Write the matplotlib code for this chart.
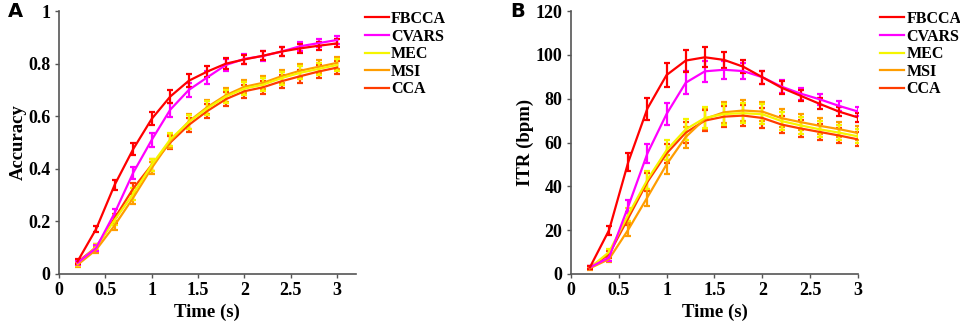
import matplotlib
matplotlib.use("Agg")
import matplotlib.pyplot as plt
import numpy as np

# --- data ---
time_s = [0.2, 0.4, 0.6, 0.8, 1.0, 1.2, 1.4, 1.6, 1.8, 2.0, 2.2, 2.4, 2.6, 2.8, 3.0]
methods = ["FBCCA", "CVARS", "MEC", "MSI", "CCA"]
colors = ["#ff0000", "#ff00ff", "#f5f500", "#ff9d00", "#ff3c00"]

acc = {
    "FBCCA": [0.048, 0.171, 0.339, 0.475, 0.590, 0.675, 0.735, 0.770, 0.800, 0.816, 0.830, 0.846, 0.858, 0.868, 0.877],
    "CVARS": [0.042, 0.099, 0.232, 0.385, 0.510, 0.625, 0.700, 0.748, 0.795, 0.818, 0.829, 0.846, 0.866, 0.878, 0.890],
    "MEC":   [0.040, 0.103, 0.205, 0.305, 0.415, 0.512, 0.578, 0.630, 0.675, 0.705, 0.720, 0.745, 0.765, 0.780, 0.795],
    "MSI":   [0.035, 0.092, 0.185, 0.290, 0.403, 0.505, 0.580, 0.635, 0.680, 0.712, 0.727, 0.752, 0.773, 0.788, 0.803],
    "CCA":   [0.045, 0.102, 0.212, 0.325, 0.415, 0.500, 0.567, 0.620, 0.665, 0.695, 0.710, 0.733, 0.752, 0.770, 0.785],
}
acc_err = {
    "FBCCA": [0.010, 0.012, 0.018, 0.024, 0.025, 0.025, 0.024, 0.022, 0.020, 0.018, 0.018, 0.018, 0.016, 0.016, 0.015],
    "CVARS": [0.008, 0.012, 0.016, 0.022, 0.026, 0.027, 0.026, 0.025, 0.022, 0.020, 0.018, 0.018, 0.017, 0.016, 0.015],
    "MEC":   [0.008, 0.012, 0.018, 0.022, 0.024, 0.026, 0.027, 0.027, 0.026, 0.025, 0.025, 0.025, 0.025, 0.024, 0.024],
    "MSI":   [0.008, 0.012, 0.018, 0.022, 0.024, 0.026, 0.027, 0.027, 0.026, 0.025, 0.025, 0.025, 0.025, 0.024, 0.024],
    "CCA":   [0.008, 0.012, 0.018, 0.022, 0.024, 0.026, 0.027, 0.027, 0.026, 0.025, 0.025, 0.025, 0.025, 0.024, 0.024],
}

itr = {
    "FBCCA": [3.0, 20.0, 51.0, 75.5, 90.8, 97.4, 98.9, 97.7, 94.6, 89.8, 85.0, 81.3, 77.6, 74.1, 71.4],
    "CVARS": [3.0, 7.5, 30.8, 55.0, 73.0, 87.3, 92.5, 93.2, 92.6, 89.8, 85.5, 82.3, 79.7, 76.7, 74.1],
    "MEC":   [2.8, 10.0, 27.0, 43.0, 56.5, 66.0, 71.2, 73.0, 73.4, 72.9, 69.8, 67.8, 66.0, 64.5, 62.8],
    "MSI":   [2.6, 6.8, 20.2, 35.0, 50.0, 62.5, 70.8, 73.8, 74.6, 74.1, 71.1, 69.3, 67.6, 66.1, 64.3],
    "CCA":   [3.0, 9.0, 25.5, 42.0, 55.0, 64.5, 70.0, 71.8, 72.3, 71.2, 68.2, 66.4, 64.8, 63.2, 61.4],
}
itr_err = {
    "FBCCA": [0.6, 2.0, 4.0, 5.0, 5.5, 5.0, 4.5, 3.5, 3.0, 3.0, 3.0, 2.5, 2.5, 2.2, 2.0],
    "CVARS": [0.6, 1.5, 3.0, 4.5, 5.0, 5.3, 4.8, 4.0, 3.5, 3.0, 3.0, 2.8, 2.6, 2.4, 2.2],
    "MEC":   [0.6, 1.5, 3.0, 4.0, 4.5, 4.8, 4.8, 4.8, 4.6, 4.5, 4.0, 3.8, 3.6, 3.4, 3.2],
    "MSI":   [0.6, 1.5, 3.0, 4.0, 4.5, 4.8, 4.8, 4.8, 4.6, 4.5, 4.0, 3.8, 3.6, 3.4, 3.2],
    "CCA":   [0.6, 1.5, 3.0, 4.0, 4.5, 4.8, 4.8, 4.8, 4.6, 4.5, 4.0, 3.8, 3.6, 3.4, 3.2],
}

plt.rcParams["font.family"] = ["Liberation Serif", "DejaVu Serif"]
plt.rcParams["font.weight"] = "bold"

fig = plt.figure(figsize=(9.6, 3.25), dpi=100)
ax_a = fig.add_axes([0.0615, 0.157, 0.309, 0.809])
ax_b = fig.add_axes([0.5945, 0.157, 0.2995, 0.809])


def draw_panel(ax, values, errors, ylim, yticks, ylabel, xmax, leg_x):
    # draw back-to-front so FBCCA ends up on top
    for name, col in reversed(list(zip(methods, colors))):
        ax.errorbar(time_s, values[name], yerr=errors[name], color=col,
                    ecolor=col, linewidth=1.6, elinewidth=1.6, capsize=2.5,
                    capthick=1.6, label=name)
    ax.set_xlim(0, xmax)
    ax.set_ylim(*ylim)
    ax.set_xticks([0, 0.5, 1, 1.5, 2, 2.5, 3])
    ax.set_xticklabels(["0", "0.5", "1", "1.5", "2", "2.5", "3"])
    ax.set_yticks(yticks)
    ax.set_xlabel("Time (s)", fontsize=13.5, fontweight="bold", labelpad=3)
    ax.set_ylabel(ylabel, fontsize=13.5, fontweight="bold", labelpad=1)
    ax.tick_params(labelsize=13, length=3, width=1, color="#555555", pad=3)
    for side in ("top", "right"):
        ax.spines[side].set_visible(False)
    for side in ("left", "bottom"):
        ax.spines[side].set_color("#555555")
        ax.spines[side].set_linewidth(1.2)
    handles, labels = ax.get_legend_handles_labels()
    order = [labels.index(m) for m in methods]
    ax.legend([handles[i][0] for i in order], [labels[i] for i in order],
              loc="upper left", bbox_to_anchor=(leg_x, 1.0), frameon=False,
              fontsize=11.5, labelspacing=0.1, handlelength=1.5,
              handletextpad=0.15, borderpad=0, borderaxespad=0)


draw_panel(ax_a, acc, acc_err, (0, 1), [0, 0.2, 0.4, 0.6, 0.8, 1],
           "Accuracy", 3.2, 1.03)
ax_a.set_yticklabels(["0", "0.2", "0.4", "0.6", "0.8", "1"])
draw_panel(ax_b, itr, itr_err, (0, 120), [0, 20, 40, 60, 80, 100, 120],
           "ITR (bpm)", 3.0, 1.077)

fig.text(0.008, 0.966, "A", family="DejaVu Sans", fontsize=14,
         fontweight="bold", ha="left", va="center")
fig.text(0.532, 0.966, "B", family="DejaVu Sans", fontsize=14,
         fontweight="bold", ha="left", va="center")

fig.savefig("out.png", dpi=100)
